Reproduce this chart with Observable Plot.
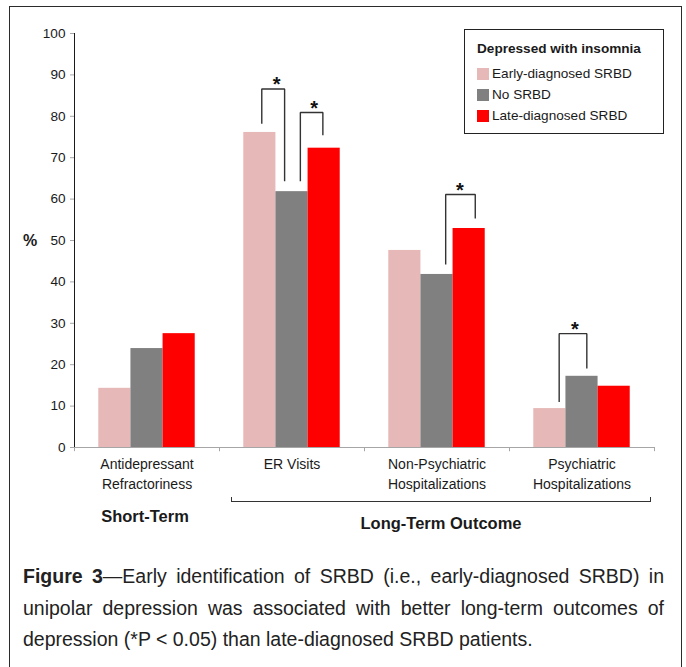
<!DOCTYPE html>
<html><head><meta charset="utf-8">
<script src="https://cdn.jsdelivr.net/npm/d3@7"></script>
<script src="https://cdn.jsdelivr.net/npm/@observablehq/plot@0.6"></script>
<style>
body{margin:0;background:#fff;font-family:"Liberation Sans",Arial,sans-serif;color:#1a1a1a;}
#page{position:relative;width:686px;height:667px;overflow:hidden;background:#fff;}
#frame{position:absolute;left:9px;top:6px;width:673px;height:720px;border:1.5px solid #2b2b2b;box-sizing:border-box;}
#chart{position:absolute;left:0;top:0;}
#chart svg [aria-label^="y-axis"] line,#chart svg [aria-label^="y-axis"] path{stroke:#a6a6a6;}
#pct{position:absolute;left:23px;top:231px;font-weight:bold;font-size:16px;line-height:20px;}
#legend{position:absolute;left:464px;top:29px;width:200px;height:105px;border:1px solid #222;box-sizing:border-box;padding:8px 0 0 12px;background:#fff;}
#legend .title{font-weight:bold;font-size:13.6px;line-height:21px;margin-bottom:4px;}
#legend .row{display:flex;align-items:center;font-size:13.6px;line-height:21px;height:21px;}
#legend .sw{width:12px;height:12px;margin-right:3px;}
.grp{position:absolute;font-weight:bold;font-size:16.5px;line-height:20px;transform:translateX(-50%);white-space:nowrap;}
#ltbracket{position:absolute;left:231px;top:497px;width:420px;height:4.5px;border:1.5px solid #333;border-top:none;box-sizing:border-box;}
#caption{position:absolute;left:23px;top:561px;width:641px;font-size:19.5px;line-height:31.5px;color:#222;}
#caption .ln{white-space:nowrap;text-align:justify;text-align-last:justify;}
#caption .last{text-align:left;text-align-last:left;}
</style></head>
<body>
<div id="page">
  <div id="frame"></div>
  <div id="chart"></div>
  <div id="pct">%</div>
  <div id="legend"></div>
  <div id="ltbracket"></div>
  <div class="grp" id="st" style="left:145px;top:506px;">Short-Term</div>
  <div class="grp" id="lt" style="left:441px;top:513px;">Long-Term Outcome</div>
  <div id="caption"></div>
</div>
<script>
// ---- data ----
const categories = ["Antidepressant Refractoriness", "ER Visits", "Non-Psychiatric Hospitalizations", "Psychiatric Hospitalizations"];
const categoryLabels = ["Antidepressant\nRefractoriness", "ER Visits", "Non-Psychiatric\nHospitalizations", "Psychiatric\nHospitalizations"];
const groups = ["Early-diagnosed SRBD", "No SRBD", "Late-diagnosed SRBD"];
const colors = ["#e6b9b8", "#808080", "#ff0000"];
const earlyValues = [14.3, 76.1, 47.6, 9.4];
const noSrbdValues = [23.9, 61.8, 41.8, 17.2];
const lateValues = [27.5, 72.3, 52.9, 14.8];
const yTicks = [0, 10, 20, 30, 40, 50, 60, 70, 80, 90, 100];
const legendTitle = "Depressed with insomnia";
// significance brackets (x in bar-slot units within a category, y in %)
const bracketCategory = ["ER Visits", "ER Visits", "Non-Psychiatric Hospitalizations", "Psychiatric Hospitalizations"];
const bracketLeftX = [0.56, 1.76, 1.77, 0.79];
const bracketRightX = [1.27, 2.46, 2.69, 1.65];
const bracketTop = [86.6, 80.9, 61.1, 27.5];
const bracketLeftEnd = [78.2, 64.3, 44.2, 11.0];
const bracketRightEnd = [64.3, 75.4, 55.3, 19.1];
const starX = [1.02, 2.19, 2.21, 1.28];
const groupLabels = ["Short-Term", "Long-Term Outcome"];
const captionBold = "Figure 3";
const captionLines = [
  "—Early identification of SRBD (i.e., early-diagnosed SRBD) in",
  "unipolar depression was associated with better long-term outcomes of",
  "depression (*P < 0.05) than late-diagnosed SRBD patients."
];

// ---- tables ----
const seriesValues = [earlyValues, noSrbdValues, lateValues];
const bars = categories.flatMap((c, i) => groups.map((g, j) => ({category: c, group: g, slot: j, value: seriesValues[j][i]})));
const labelRows = categories.map((c, i) => ({category: c, label: categoryLabels[i]}));
const bracketPts = bracketCategory.flatMap((c, i) => [
  {id: i, category: c, x: bracketLeftX[i], y: bracketLeftEnd[i]},
  {id: i, category: c, x: bracketLeftX[i], y: bracketTop[i]},
  {id: i, category: c, x: bracketRightX[i], y: bracketTop[i]},
  {id: i, category: c, x: bracketRightX[i], y: bracketRightEnd[i]}
]);
const stars = bracketCategory.map((c, i) => ({category: c, x: starX[i], y: bracketTop[i]}));
const xDomain = [-0.755, 3.755];

const chart = Plot.plot({
  width: 686, height: 540,
  marginLeft: 72, marginRight: 31, marginTop: 33, marginBottom: 93,
  style: {fontFamily: "'Liberation Sans', Arial, sans-serif", fontSize: "13.6px", color: "#1a1a1a", background: "transparent"},
  fx: {domain: categories, padding: 0, axis: null, label: null},
  x: {domain: xDomain, axis: null},
  y: {domain: [0, 100], ticks: yTicks, tickSize: 4, tickPadding: 5, line: true, label: null},
  color: {domain: groups, range: colors},
  marks: [
    Plot.rect(bars, {fx: "category", x1: "slot", x2: d => d.slot + 1, y1: 0, y2: "value", fill: "group"}),
    Plot.ruleY([0], {stroke: "#a6a6a6"}),
    Plot.ruleX(xDomain, {y1: 0, y2: -1, stroke: "#a6a6a6"}),
    Plot.line(bracketPts, {fx: "category", x: "x", y: "y", z: "id", stroke: "#333", strokeWidth: 1.4, strokeLinejoin: "miter", strokeLinecap: "butt"}),
    Plot.text(stars, {fx: "category", x: "x", y: "y", text: d => "*", fontSize: 20, fontWeight: "bold", dy: -4, fill: "#111"}),
    Plot.text(labelRows, {fx: "category", text: "label", frameAnchor: "bottom", lineAnchor: "top", dy: 8, fontSize: 14, lineHeight: 1.4, fill: "#1a1a1a"})
  ]
});
document.getElementById("chart").appendChild(chart);

// legend
const lg = document.getElementById("legend");
const t = document.createElement("div"); t.className = "title"; t.textContent = legendTitle; lg.appendChild(t);
groups.forEach((g, i) => {
  const r = document.createElement("div"); r.className = "row";
  const s = document.createElement("span"); s.className = "sw"; s.style.background = colors[i];
  const l = document.createElement("span"); l.textContent = g;
  r.appendChild(s); r.appendChild(l); lg.appendChild(r);
});
document.getElementById("st").textContent = groupLabels[0];
document.getElementById("lt").textContent = groupLabels[1];

// caption
const cap = document.getElementById("caption");
captionLines.forEach((line, i) => {
  const d = document.createElement("div");
  d.className = "ln" + (i === captionLines.length - 1 ? " last" : "");
  if (i === 0) {
    const b = document.createElement("b"); b.textContent = captionBold; d.appendChild(b);
  }
  d.appendChild(document.createTextNode(line));
  cap.appendChild(d);
});
</script>
</body></html>
